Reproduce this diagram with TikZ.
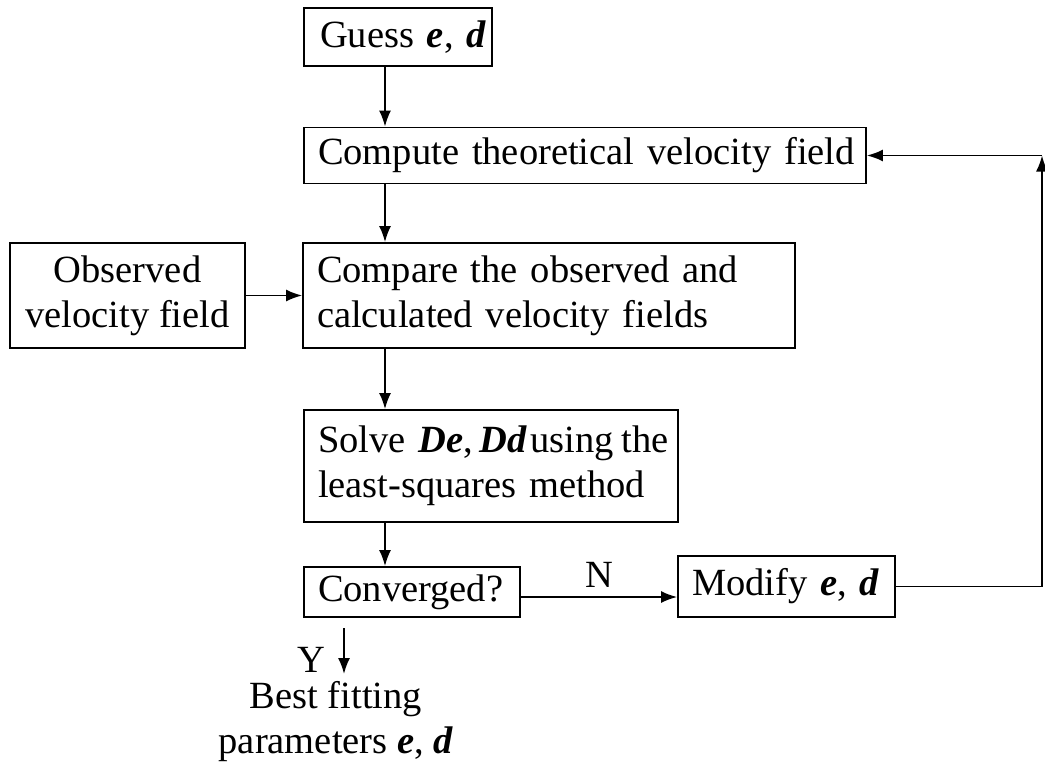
\documentclass[tikz,border=0pt]{standalone}
\usepackage{fontspec}
\setmainfont{Liberation Serif}
\usetikzlibrary{arrows.meta,calc}
\newcommand{\ev}{\textbf{\textit{e}}}
\newcommand{\dv}{\textbf{\textit{d}}}
\tikzset{
  every node/.style={font=\fontsize{38.5}{45}\selectfont, inner sep=0pt},
  box/.style={draw, line width=1.8pt},
  leftbox/.style={box, align=left},
  arr/.style={line width=1.8pt, -{Latex[length=16pt,width=12pt]}},
}
\begin{document}
\begin{tikzpicture}[x=1pt,y=-1pt]
\useasboundingbox (0,0) rectangle (1045,769);

% process boxes
\node[leftbox, minimum width=188, minimum height=58, text width=156] (guess) at (398,37) {\mbox{Guess \ev, \dv}};
\node[leftbox, minimum width=562, minimum height=56, text width=534] (compute) at (585,155.5) {\mbox{Compute theoretical velocity field}};
\node[box, align=center, minimum width=235, minimum height=105] (observed) at (127.5,295.5) {Observed\\velocity field};
\node[leftbox, minimum width=492, minimum height=105, text width=464] (compare) at (549,295.5) {\mbox{Compare the observed and}\\\mbox{calculated velocity fields}};
\node[leftbox, minimum width=374, minimum height=112, text width=346] (solve) at (491,466) {\mbox{Solve \textbf{\textit{De}},\hspace{0.18em}\textbf{\textit{Dd}}\hspace{0.08em}using\hspace{0.2em}the}\\\mbox{least-squares method}};
\node[leftbox, minimum width=216, minimum height=50, text width=188] (converged) at (412,592) {\mbox{Converged?}};
\node[leftbox, minimum width=217, minimum height=61, text width=189] (modify) at (786.5,586.5) {\mbox{Modify \ev, \dv}};
\node[align=center] (best) at (336,722) {Best fitting\\parameters \ev, \dv};

% main flow
\draw[arr] (guess.south -| 385,0) -- (compute.north -| 385,0);
\draw[arr] (compute.south -| 385,0) -- (compare.north -| 385,0);
\draw[arr] (observed.east) -- (observed.east -| compare.west);
\draw[arr] (compare.south -| 385,0) -- (solve.north -| 385,0);
\draw[arr] (solve.south -| 385,0) -- (converged.north -| 385,0);

% no: modify and loop back
\draw[arr] ([yshift=-5]converged.east) -- ([yshift=-5]converged.east -| modify.west)
  node[midway, yshift=22] (nlabel) {N};
\coordinate (corner) at (1042,155.5);
\draw[arr] (modify.east) -| (corner);
\draw[arr] (corner) -- (compute.east);

% yes: result
\coordinate (ytop) at (344,628);
\coordinate (yend) at (344,674);
\draw[arr] (ytop) -- (yend);
\node (ylabel) at (311,660) {Y};
\end{tikzpicture}
\end{document}
